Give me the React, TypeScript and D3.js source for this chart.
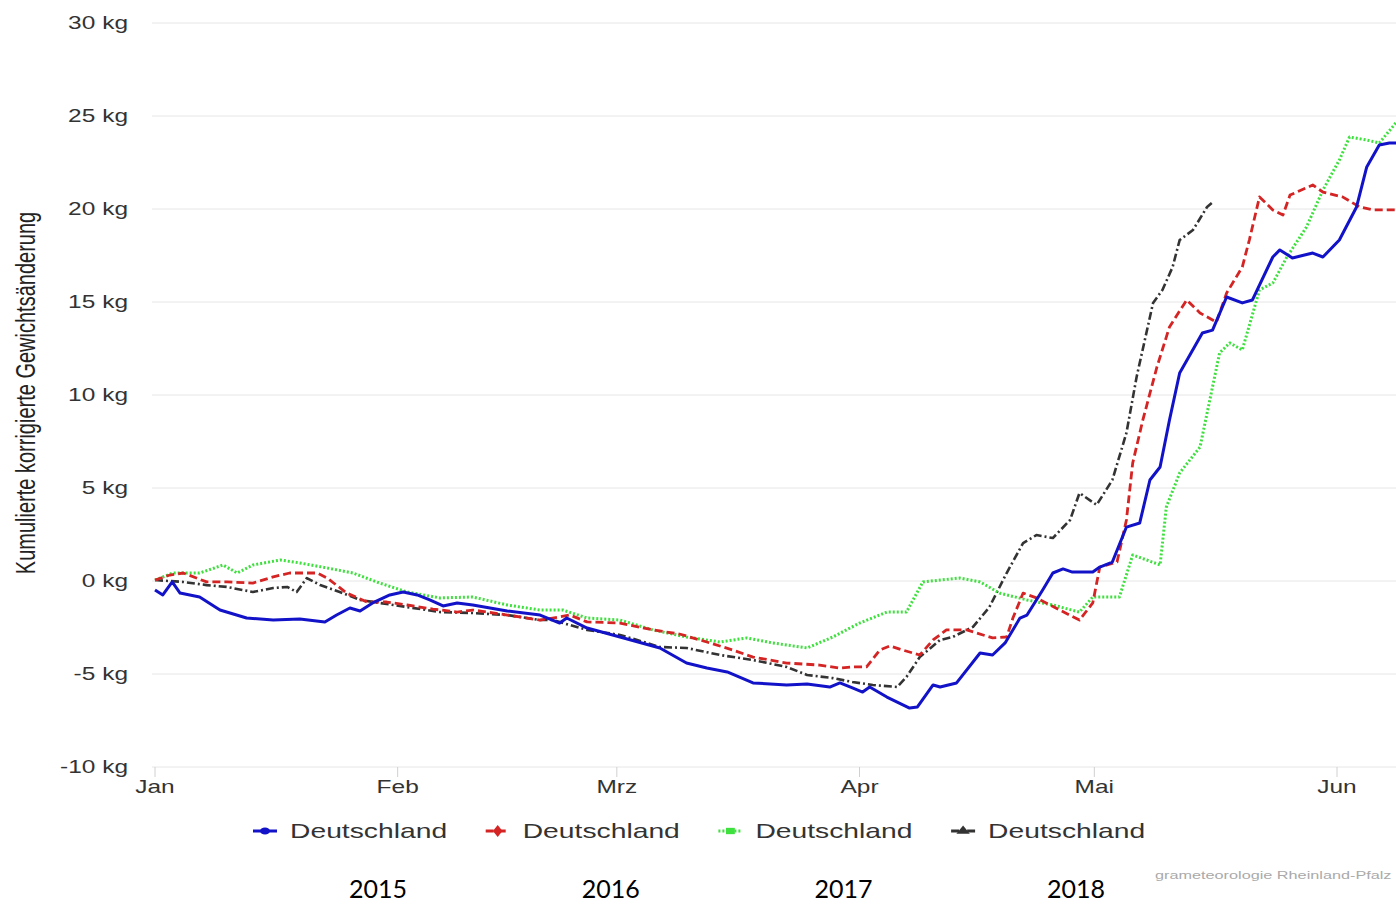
import React, { useRef, useEffect } from 'react';
import * as d3 from 'd3';

// [day of year, kg]
type Pt = [number, number];

const monthLabels = ['Jan', 'Feb', 'Mrz', 'Apr', 'Mai', 'Jun'];
const yTicks = [-10, -5, 0, 5, 10, 15, 20, 25, 30];
const yearLabels = ['2015', '2016', '2017', '2018'];
const legendNames = ['Deutschland', 'Deutschland', 'Deutschland', 'Deutschland'];

const series2015: Pt[] = [
  [0, -0.48], [1.0, -0.75], [2.2, -0.05], [3.2, -0.65], [5.7, -0.86], [8.3, -1.56], [11.7, -1.99],
  [15.1, -2.1], [18.5, -2.04], [21.7, -2.2], [23.2, -1.83], [24.9, -1.45], [26.2, -1.61], [27.8, -1.18],
  [30.0, -0.75], [31.7, -0.59], [33.5, -0.75], [35.1, -1.02], [36.8, -1.34], [38.6, -1.18], [40.6, -1.29],
  [45.0, -1.61], [49.2, -1.83], [51.7, -2.26], [52.6, -1.99], [55.2, -2.53], [59.4, -3.01], [64.5, -3.6],
  [67.9, -4.41], [70.5, -4.68], [73.1, -4.89], [76.4, -5.48], [80.7, -5.59], [83.3, -5.54], [86.2, -5.7],
  [87.5, -5.48], [89.1, -5.75], [90.4, -5.97], [91.3, -5.7], [93.5, -6.24], [96.4, -6.83], [97.4, -6.77],
  [99.4, -5.59], [100.3, -5.7], [102.4, -5.48], [105.4, -3.87], [107.0, -3.98], [108.6, -3.33],
  [110.5, -1.99], [111.4, -1.83], [113.4, -0.48], [114.7, 0.43], [116.0, 0.65], [117.2, 0.48],
  [119.8, 0.48], [120.7, 0.75], [122.3, 1.02], [124.1, 2.9], [125.8, 3.12], [127.1, 5.43], [128.4, 6.13],
  [129.6, 8.66], [130.9, 11.18], [133.8, 13.33], [135.1, 13.49], [136.9, 15.27], [138.9, 14.95],
  [140.2, 15.11], [142.8, 17.42], [143.7, 17.8], [145.3, 17.37], [147.9, 17.63], [149.2, 17.42],
  [151.3, 18.33], [153.5, 20.11], [154.8, 22.26], [156.4, 23.44], [157.7, 23.55], [159.5, 23.55],
];

const series2016: Pt[] = [
  [0, 0.05], [1.9, 0.32], [3.6, 0.43], [6.6, -0.05], [9.2, -0.05], [12.5, -0.11], [15.1, 0.22],
  [17.2, 0.43], [20.7, 0.43], [22.0, 0.16], [24.5, -0.65], [27.1, -1.13], [29.6, -1.13], [32.2, -1.29],
  [35.5, -1.51], [38.6, -1.67], [40.6, -1.56], [45.0, -1.83], [49.2, -2.1], [50.8, -1.99], [53.0, -1.83],
  [55.2, -2.2], [59.4, -2.26], [63.6, -2.63], [67.0, -2.85], [70.5, -3.28], [73.8, -3.71], [76.4, -4.09],
  [80.7, -4.41], [84.9, -4.52], [87.5, -4.68], [89.1, -4.62], [90.9, -4.62], [92.6, -3.71], [93.9, -3.49],
  [95.5, -3.71], [97.7, -3.98], [99.4, -3.17], [101.1, -2.63], [103.7, -2.63], [107.0, -3.06],
  [108.8, -3.01], [109.6, -1.99], [110.9, -0.65], [112.6, -0.91], [115.6, -1.56], [118.1, -2.1],
  [119.8, -1.18], [120.7, 0.75], [122.9, 1.02], [124.1, 3.28], [124.9, 6.34], [126.2, 8.66],
  [128.0, 11.51], [129.6, 13.66], [131.8, 15.11], [133.5, 14.41], [135.6, 13.92], [136.9, 15.48],
  [138.9, 16.88], [139.8, 18.33], [141.1, 20.65], [142.8, 19.95], [144.1, 19.68], [145.0, 20.75],
  [147.9, 21.29], [149.2, 20.91], [151.7, 20.65], [153.9, 20.11], [155.6, 19.95], [159.5, 19.95],
];

const series2017: Pt[] = [
  [0, 0.05], [2.3, 0.43], [5.7, 0.43], [8.7, 0.86], [10.5, 0.43], [12.5, 0.86], [16.0, 1.13],
  [18.5, 0.97], [22.0, 0.7], [25.3, 0.43], [28.7, -0.11], [32.2, -0.59], [36.4, -0.91], [40.6, -0.86],
  [45.0, -1.29], [49.2, -1.56], [52.1, -1.56], [55.2, -1.99], [59.4, -2.1], [63.6, -2.63], [67.9, -3.01],
  [72.2, -3.28], [75.6, -3.06], [78.9, -3.33], [83.3, -3.6], [86.6, -3.01], [90.0, -2.26], [93.5, -1.67],
  [96.0, -1.67], [98.1, -0.05], [100.3, 0.05], [102.8, 0.16], [105.4, -0.05], [107.9, -0.65],
  [111.4, -1.02], [114.7, -1.29], [118.1, -1.67], [119.8, -0.86], [123.2, -0.86], [124.9, 1.4],
  [126.7, 1.13], [128.4, 0.86], [129.2, 3.98], [130.9, 5.81], [133.5, 7.2], [136.0, 12.26],
  [137.3, 12.8], [138.9, 12.42], [141.1, 15.65], [142.8, 16.02], [144.6, 17.42], [147.1, 19.03],
  [149.2, 21.02], [151.3, 22.63], [152.6, 23.87], [154.8, 23.71], [156.4, 23.55], [158.5, 24.62],
  [159.5, 25.1],
];

const series2018: Pt[] = [
  [0, 0.05], [3.6, -0.05], [6.6, -0.22], [9.2, -0.32], [12.5, -0.59], [15.1, -0.38], [16.9, -0.32],
  [18.1, -0.59], [19.4, 0.16], [21.1, -0.22], [23.6, -0.59], [26.2, -1.02], [28.7, -1.18], [32.2, -1.4],
  [36.4, -1.67], [40.6, -1.72], [45.0, -1.83], [49.2, -2.1], [50.8, -2.1], [55.2, -2.63], [59.4, -2.9],
  [61.6, -3.17], [64.5, -3.55], [67.9, -3.6], [72.2, -3.98], [76.4, -4.25], [80.7, -4.62], [83.3, -5.05],
  [86.6, -5.22], [89.1, -5.43], [91.7, -5.59], [94.8, -5.7], [96.0, -5.16], [97.7, -4.09], [100.3, -3.17],
  [101.9, -3.01], [104.5, -2.47], [106.6, -1.4], [108.8, 0.43], [110.9, 2.04], [112.6, 2.47],
  [114.7, 2.31], [116.9, 3.28], [118.1, 4.73], [120.3, 4.09], [122.3, 5.43], [124.1, 7.96],
  [125.4, 10.97], [127.5, 14.95], [128.7, 15.65], [130.0, 16.88], [130.9, 18.33], [132.6, 18.87],
  [134.4, 20.11], [135.0, 20.32],
];

const allSeries = [
  { data: series2015, color: '#1212c8', dash: null, width: 3, symbol: d3.symbolCircle },
  { data: series2016, color: '#d42424', dash: '8,4', width: 2.8, symbol: d3.symbolDiamond },
  { data: series2017, color: '#3ee03e', dash: '2,2', width: 3, symbol: d3.symbolSquare },
  { data: series2018, color: '#333333', dash: '8,3,2,3', width: 2.6, symbol: d3.symbolTriangle },
];

const SX = 1.4; // the reference picture is stretched horizontally

const App: React.FC = () => {
  const ref = useRef<SVGSVGElement | null>(null);

  useEffect(() => {
    if (!ref.current) return;
    const svg = d3.select(ref.current);
    svg.selectAll('*').remove();

    const width = 1396;
    const start = new Date(2017, 0, 1);
    const toDate = (day: number) => new Date(start.getTime() + day * 864e5);

    const x = d3.scaleTime()
      .domain([start, new Date(2017, 5, 1)])
      .range([155, 1337]);
    const y = d3.scaleLinear().domain([-10, 30]).range([767, 23]);

    const addText = (
      g: d3.Selection<any, unknown, null, undefined>,
      tx: number, ty: number, txt: string, size: number, anchor: string, fill: string
    ) => g.append('text')
      .attr('transform', `translate(${tx},${ty}) scale(${SX},1)`)
      .attr('text-anchor', anchor)
      .attr('dominant-baseline', 'central')
      .attr('font-family', 'Liberation Sans, Arial, sans-serif')
      .attr('font-size', size)
      .attr('fill', fill)
      .text(txt);

    // horizontal gridlines
    const grid = svg.append('g');
    grid.selectAll('line')
      .data(yTicks)
      .join('line')
      .attr('x1', 152).attr('x2', width)
      .attr('y1', d => y(d)).attr('y2', d => y(d))
      .attr('stroke', '#e6e6e6')
      .attr('stroke-width', 1);

    // y tick labels
    const yAxis = svg.append('g');
    yTicks.forEach(t => addText(yAxis, 128, y(t), `${t} kg`, 17.5, 'end', '#333'));

    // month ticks + labels
    const months = d3.timeMonth.range(start, new Date(2017, 5, 2));
    const xAxis = svg.append('g');
    months.forEach((m, i) => {
      xAxis.append('line')
        .attr('x1', x(m)).attr('x2', x(m))
        .attr('y1', 767).attr('y2', 777)
        .attr('stroke', '#d0d0d0');
      addText(xAxis, x(m), 787, monthLabels[i], 17.5, 'middle', '#333');
    });

    // y axis title
    svg.append('text')
      .attr('transform', `translate(25,393) scale(${SX},1) rotate(-90)`)
      .attr('text-anchor', 'middle')
      .attr('dominant-baseline', 'central')
      .attr('font-family', 'Liberation Sans, Arial, sans-serif')
      .attr('font-size', 20)
      .attr('fill', '#222')
      .text('Kumulierte korrigierte Gewichtsänderung');

    // lines
    const line = d3.line<Pt>()
      .x(d => x(toDate(d[0])))
      .y(d => y(d[1]));

    const linesG = svg.append('g');
    [...allSeries].reverse().forEach(s => {
      linesG.append('path')
        .datum(s.data)
        .attr('fill', 'none')
        .attr('stroke', s.color)
        .attr('stroke-width', s.width)
        .attr('stroke-linejoin', 'round')
        .attr('stroke-dasharray', s.dash)
        .attr('d', line);
    });

    // legend
    const legend = svg.append('g');
    allSeries.forEach((s, i) => {
      const cx = 265 + i * 232.7;
      const cy = 831;
      legend.append('line')
        .attr('x1', cx - 12).attr('x2', cx + 12)
        .attr('y1', cy).attr('y2', cy)
        .attr('stroke', s.color)
        .attr('stroke-width', 3)
        .attr('stroke-dasharray', s.dash);
      legend.append('path')
        .attr('transform', `translate(${cx},${cy}) scale(${SX},1)`)
        .attr('d', d3.symbol().type(s.symbol).size(40)())
        .attr('fill', s.color);
      addText(legend, cx + 25, cy, legendNames[i], 20.2, 'start', '#333');

      svg.append('text')
        .attr('x', cx + 113)
        .attr('y', 898)
        .attr('text-anchor', 'middle')
        .attr('font-family', 'Lato, sans-serif')
        .attr('font-size', 25)
        .attr('fill', '#000')
        .text(yearLabels[i]);
    });

    // credit
    svg.append('text')
      .attr('transform', `translate(1155,879) scale(${SX},1)`)
      .attr('font-family', 'Liberation Sans, Arial, sans-serif')
      .attr('font-size', 11.6)
      .attr('fill', '#aaa')
      .text('grameteorologie Rheinland-Pfalz');
  }, []);

  return (
    <svg
      ref={ref}
      width={1396}
      height={904}
      style={{ position: 'absolute', left: 0, top: 0, background: '#fff' }}
    />
  );
};

export default App;
